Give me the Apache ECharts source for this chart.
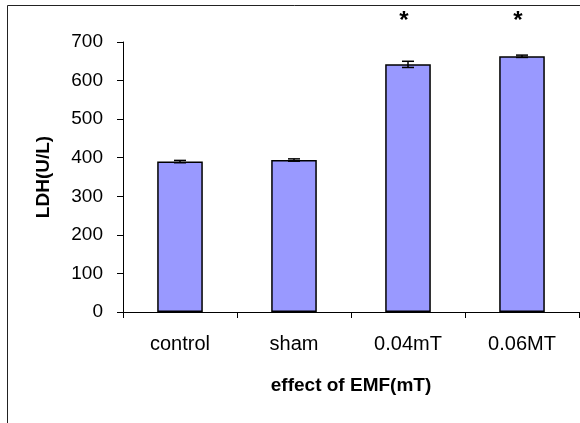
<!DOCTYPE html>
<html>
<head>
<meta charset="utf-8">
<script src="https://cdn.jsdelivr.net/npm/echarts@6/dist/echarts.min.js"></script>
<style>html,body{margin:0;padding:0;background:#fff}#c{width:580px;height:423px}</style>
</head>
<body>
<div id="c"></div>
<script>
var categories = ['control', 'sham', '0.04mT', '0.06MT'];
var values = [390, 394, 642, 663];
var errors = [3, 3, 8, 3];
var marks = ['', '', '*', '*'];
var markValue = 753;
var yTicks = [0, 100, 200, 300, 400, 500, 600, 700];

var chart = echarts.init(document.getElementById('c'), null, {renderer: 'canvas'});
var font = '"Liberation Sans", Arial, sans-serif';
chart.setOption({
  animation: false,
  backgroundColor: '#fff',
  graphic: [{
    type: 'rect', left: 5, top: 3, shape: {width: 700, height: 600},
    style: {fill: 'none', stroke: '#222', lineWidth: 1}, silent: true, z: -1
  }],
  grid: {left: 123, right: 1, top: 42, bottom: 111},
  xAxis: {
    type: 'category',
    data: categories,
    name: 'effect of EMF(mT)',
    nameLocation: 'middle',
    nameGap: 64,
    nameTextStyle: {fontFamily: font, fontSize: 19, fontWeight: 'bold', color: '#000'},
    axisLine: {lineStyle: {color: '#000', width: 1}},
    axisTick: {show: true, inside: false, length: 6, alignWithLabel: false, lineStyle: {color: '#000'}},
    axisLabel: {fontFamily: font, fontSize: 20, color: '#000', margin: 22}
  },
  yAxis: {
    type: 'value',
    min: yTicks[0], max: yTicks[yTicks.length - 1], interval: 100,
    name: 'LDH(U/L)',
    nameLocation: 'middle',
    nameGap: 70,
    nameTextStyle: {fontFamily: font, fontSize: 19, fontWeight: 'bold', color: '#000'},
    axisLine: {show: true, lineStyle: {color: '#000', width: 1}},
    axisTick: {show: true, length: 6, lineStyle: {color: '#000'}},
    splitLine: {show: false},
    axisLabel: {fontFamily: font, fontSize: 19, color: '#000', margin: 20}
  },
  series: [{
    type: 'bar',
    data: values,
    barWidth: '40%',
    itemStyle: {color: '#9999FF', borderColor: '#000', borderWidth: 1.5}
  }, {
    type: 'custom',
    data: values.map(function (v, i) { return [i, v, errors[i]]; }),
    z: 10,
    renderItem: function (params, api) {
      var i = api.value(0), v = api.value(1), e = api.value(2);
      var hi = api.coord([i, v + e]);
      var lo = api.coord([i, v - e]);
      var hw = 6;
      return {
        type: 'group',
        children: [
          {type: 'line', shape: {x1: hi[0], y1: hi[1], x2: lo[0], y2: lo[1]}, style: {stroke: '#000', lineWidth: 1.5}},
          {type: 'line', shape: {x1: hi[0] - hw, y1: hi[1], x2: hi[0] + hw, y2: hi[1]}, style: {stroke: '#000', lineWidth: 1.5}},
          {type: 'line', shape: {x1: lo[0] - hw, y1: lo[1], x2: lo[0] + hw, y2: lo[1]}, style: {stroke: '#000', lineWidth: 1.5}}
        ]
      };
    }
  }, {
    type: 'custom',
    clip: false,
    data: marks.map(function (m, i) { return [i, markValue, m]; }),
    renderItem: function (params, api) {
      var p = api.coord([api.value(0), api.value(1)]);
      return {
        type: 'text',
        x: p[0] - 4, y: p[1],
        style: {text: marks[params.dataIndex], fontFamily: font, fontSize: 24, fontWeight: 'bold', fill: '#000', align: 'center', verticalAlign: 'middle'}
      };
    }
  }]
});
</script>
</body>
</html>
